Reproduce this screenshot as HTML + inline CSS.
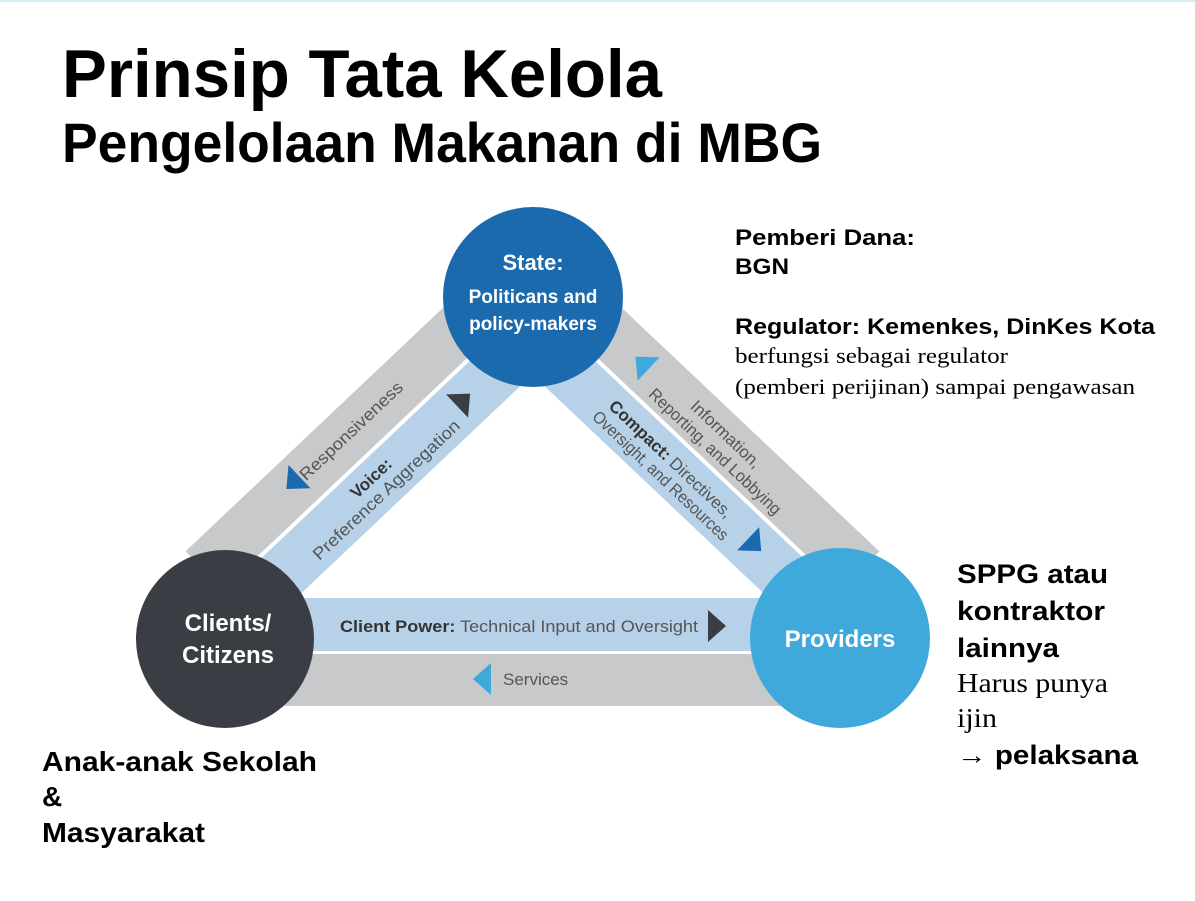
<!DOCTYPE html>
<html><head><meta charset="utf-8"><style>
html,body{margin:0;padding:0;background:#fff;}
svg{display:block;}
</style></head><body>
<svg width="1195" height="901" viewBox="0 0 1195 901" xmlns="http://www.w3.org/2000/svg">
<rect x="0" y="0" width="1195" height="2" fill="#d8ecf8"/>
<g font-family="'Liberation Sans', Arial, sans-serif" font-weight="bold" fill="#000">
<text x="62" y="97" font-size="68" textLength="600" lengthAdjust="spacingAndGlyphs">Prinsip Tata Kelola</text>
<text x="62" y="162" font-size="56" textLength="760" lengthAdjust="spacingAndGlyphs">Pengelolaan Makanan di MBG</text>
</g>

<!-- bottom bands -->
<rect x="225" y="598" width="615" height="53" fill="#b7d2e8"/>
<rect x="225" y="654" width="615" height="52" fill="#c8c9cb"/>

<!-- left bands -->
<g transform="translate(267,550) rotate(-43.4)">
<rect x="-60" y="-55" width="360" height="53" fill="#c8c9cb"/>
<rect x="-60" y="2" width="360" height="53" fill="#b7d2e8"/>
<g font-family="'Liberation Sans Narrow','Liberation Sans',sans-serif" font-size="17" fill="#555" text-anchor="middle">
<text x="143" y="-23" textLength="135" lengthAdjust="spacingAndGlyphs">Responsiveness</text>
<text x="125" y="25"><tspan font-weight="bold" fill="#333">Voice:</tspan></text>
<text x="128" y="44" textLength="195" lengthAdjust="spacingAndGlyphs">Preference Aggregation</text>
</g>
<path d="M56,-31 L74,-47 L74,-15 Z" fill="#1b6aad"/>
<path d="M255,26 L237,10 L237,42 Z" fill="#3a3d44"/>
</g>

<!-- right bands -->
<g transform="translate(580,344) rotate(43.4)">
<rect x="0" y="-55" width="360" height="53" fill="#c8c9cb"/>
<rect x="0" y="2" width="360" height="53" fill="#b7d2e8"/>
<g font-family="'Liberation Sans Narrow','Liberation Sans',sans-serif" font-size="17" fill="#555" text-anchor="middle">
<text x="168" y="-29">Information,</text>
<text x="172" y="-9" textLength="175" lengthAdjust="spacingAndGlyphs">Reporting, and Lobbying</text>
<text x="145" y="27"><tspan font-weight="bold" fill="#333">Compact:</tspan> Directives,</text>
<text x="149" y="46" textLength="180" lengthAdjust="spacingAndGlyphs">Oversight, and Resources</text>
</g>
<path d="M49,-29 L67,-45 L67,-13 Z" fill="#3fa9dc"/>
<path d="M274,26 L256,10 L256,42 Z" fill="#1b6aad"/>
</g>

<!-- bottom labels -->
<g font-family="'Liberation Sans Narrow','Liberation Sans',sans-serif" font-size="17" fill="#555">
<text x="340" y="632" textLength="358" lengthAdjust="spacingAndGlyphs"><tspan font-weight="bold" fill="#333">Client Power:</tspan> Technical Input and Oversight</text>
<text x="503" y="685">Services</text>
</g>
<path d="M726,626 L708,610 L708,642 Z" fill="#3a3d44"/>
<path d="M473,679 L491,663 L491,695 Z" fill="#3fa9dc"/>

<!-- circles -->
<circle cx="533" cy="297" r="90" fill="#1b6aad"/>
<circle cx="225" cy="639" r="89" fill="#3a3d44"/>
<circle cx="840" cy="638" r="90" fill="#3fa9dc"/>
<g font-family="'Liberation Sans Narrow','Liberation Sans',sans-serif" font-weight="bold" fill="#fff" text-anchor="middle">
<text x="533" y="270" font-size="22">State:</text>
<text x="533" y="303" font-size="19">Politicans and</text>
<text x="533" y="330" font-size="19">policy-makers</text>
<text x="228" y="631" font-size="24">Clients/</text>
<text x="228" y="663" font-size="24">Citizens</text>
<text x="840" y="647" font-size="24">Providers</text>
</g>

<!-- annotations -->
<g font-family="'Liberation Sans', Arial, sans-serif" font-weight="bold" fill="#000">
<text x="735" y="245" font-size="22" textLength="180" lengthAdjust="spacingAndGlyphs">Pemberi Dana:</text>
<text x="735" y="274" font-size="22" textLength="54" lengthAdjust="spacingAndGlyphs">BGN</text>
<text x="735" y="334" font-size="22" textLength="420" lengthAdjust="spacingAndGlyphs">Regulator: Kemenkes, DinKes Kota</text>
<text x="957" y="583" font-size="27" textLength="151" lengthAdjust="spacingAndGlyphs">SPPG atau</text>
<text x="957" y="620" font-size="27" textLength="148" lengthAdjust="spacingAndGlyphs">kontraktor</text>
<text x="957" y="657" font-size="27" textLength="102" lengthAdjust="spacingAndGlyphs">lainnya</text>
<text x="957" y="764" font-size="27" textLength="181" lengthAdjust="spacingAndGlyphs">→ pelaksana</text>
<text x="42" y="771" font-size="28" textLength="275" lengthAdjust="spacingAndGlyphs">Anak-anak Sekolah</text>
<text x="42" y="806" font-size="28">&amp;</text>
<text x="42" y="842" font-size="28" textLength="163" lengthAdjust="spacingAndGlyphs">Masyarakat</text>
</g>
<g font-family="'Liberation Serif', 'Times New Roman', serif" fill="#000">
<text x="735" y="363" font-size="22" textLength="273" lengthAdjust="spacingAndGlyphs">berfungsi sebagai regulator</text>
<text x="735" y="394" font-size="22" textLength="400" lengthAdjust="spacingAndGlyphs">(pemberi perijinan) sampai pengawasan</text>
<text x="957" y="692" font-size="27" textLength="151" lengthAdjust="spacingAndGlyphs">Harus punya</text>
<text x="957" y="727" font-size="27" textLength="40" lengthAdjust="spacingAndGlyphs">ijin</text>
</g>
</svg>
</body></html>
